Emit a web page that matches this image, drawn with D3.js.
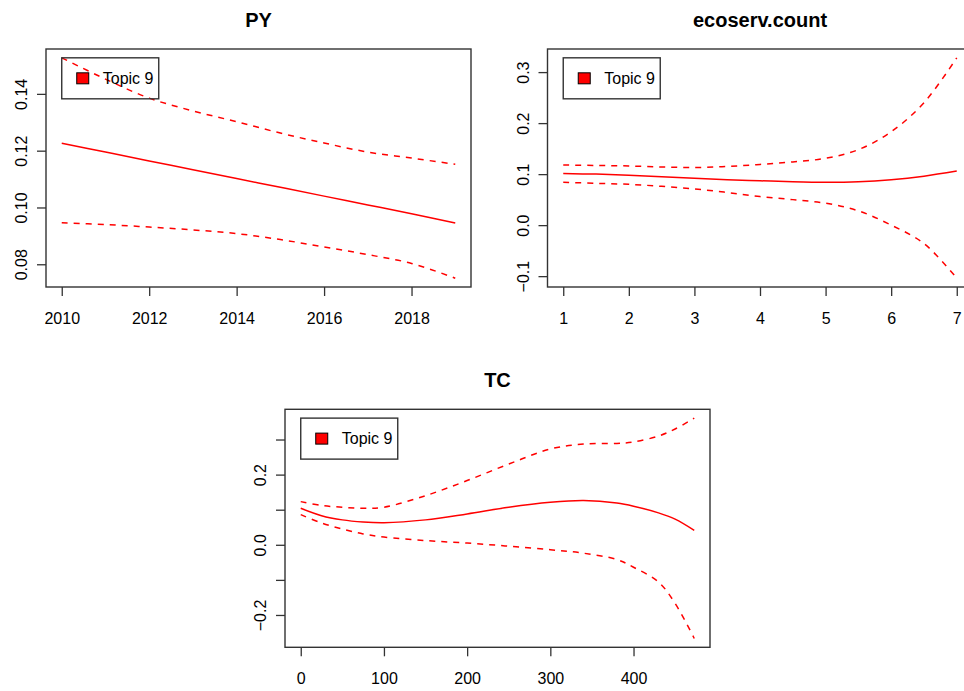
<!DOCTYPE html>
<html>
<head>
<meta charset="utf-8">
<script src="https://cdn.jsdelivr.net/npm/d3@7"></script>
<style>
  body { margin: 0; background: #fff; }
  svg { display: block; font-family: "Liberation Sans", Arial, sans-serif; }
</style>
</head>
<body>
<div id="chart"></div>
<script>
// --- data ---
var pyYears = [2010, 2011, 2012, 2013, 2014, 2015, 2016, 2017, 2018, 2019]
var pyMean  = [0.1226, 0.1195, 0.1164, 0.1133, 0.1102, 0.1071, 0.1040, 0.1009, 0.0978, 0.0945]
var pyUpper = [0.1527, 0.1452, 0.1385, 0.1340, 0.1302, 0.1262, 0.1227, 0.1195, 0.1174, 0.1152]
var pyLower = [0.0946, 0.0940, 0.0931, 0.0921, 0.0908, 0.0887, 0.0861, 0.0834, 0.0803, 0.0751]

var ecoX     = [1, 1.5, 2, 2.5, 3, 3.5, 4, 4.5, 5, 5.5, 6, 6.5, 7]
var ecoMean  = [0.101, 0.100, 0.098, 0.095, 0.092, 0.089, 0.087, 0.085, 0.084, 0.085, 0.089, 0.096, 0.106]
var ecoUpper = [0.118, 0.117, 0.116, 0.114, 0.113, 0.115, 0.119, 0.124, 0.131, 0.148, 0.183, 0.240, 0.328]
var ecoLower = [0.084, 0.082, 0.080, 0.076, 0.071, 0.064, 0.056, 0.050, 0.043, 0.028, 0.000, -0.036, -0.104]

var tcX     = [0, 25, 50, 75, 100, 150, 200, 250, 300, 340, 380, 400, 430, 450, 473]
var tcMean  = [0.104, 0.083, 0.071, 0.065, 0.063, 0.071, 0.088, 0.107, 0.121, 0.126, 0.119, 0.110, 0.091, 0.073, 0.041]
var tcUpper = [0.123, 0.112, 0.107, 0.104, 0.107, 0.140, 0.183, 0.230, 0.273, 0.287, 0.289, 0.293, 0.310, 0.330, 0.361]
var tcLower = [0.086, 0.062, 0.045, 0.031, 0.022, 0.012, 0.005, -0.004, -0.014, -0.024, -0.042, -0.064, -0.106, -0.167, -0.267]

var pyXTicks  = [2010, 2012, 2014, 2016, 2018]
var pyYTicks  = [0.08, 0.10, 0.12, 0.14]
var ecoXTicks = [1, 2, 3, 4, 5, 6, 7]
var ecoYTicks = [-0.1, 0, 0.1, 0.2, 0.3]
var tcXTicks  = [0, 100, 200, 300, 400]
var tcYTicks  = [-0.2, -0.1, 0, 0.1, 0.2, 0.3]
var tcYLabeled = [-0.2, 0, 0.2]

var legendLabel = "Topic 9"

var panels = [
    {title: "PY", left: 46, top: 49, x: pyYears, mean: pyMean, upper: pyUpper, lower: pyLower,
     xTicks: pyXTicks, yTicks: pyYTicks, yFmt: d3.format(".2f"), xFmt: d3.format("d")},
    {title: "ecoserv.count", left: 547.5, top: 49, x: ecoX, mean: ecoMean, upper: ecoUpper, lower: ecoLower,
     xTicks: ecoXTicks, yTicks: ecoYTicks, yFmt: d3.format(".1f"), xFmt: d3.format("d")},
    {title: "TC", left: 285, top: 409.3, x: tcX, mean: tcMean, upper: tcUpper, lower: tcLower,
     xTicks: tcXTicks, yTicks: tcYTicks, yFmt: function(v) {
         return tcYLabeled.some(function(t) { return Math.abs(t - v) < 1e-9 }) ? d3.format(".1f")(v) : ""
     }, xFmt: d3.format("d")}
]

var W = 964, H = 691, pw = 425, ph = 238

var svg = d3.select("#chart").append("svg")
    .attr("width", W)
    .attr("height", H)

// R style 4% padding around the data range
function padded(ext) {
    var p = (ext[1] - ext[0]) * 0.04
    return [ext[0] - p, ext[1] + p]
}

panels.forEach(function(p) {
    var g = svg.append("g").attr("transform", "translate(" + p.left + "," + p.top + ")")

    var x = d3.scaleLinear().domain(padded(d3.extent(p.x))).range([0, pw])
    var y = d3.scaleLinear().domain(padded(d3.extent(p.upper.concat(p.lower, p.mean)))).range([ph, 0])

    // title
    g.append("text")
    .attr("x", pw / 2)
    .attr("y", -22)
    .attr("text-anchor", "middle")
    .style("font-size", "20px")
    .style("font-weight", "bold")
    .text(p.title)

    // x axis
    var xa = g.append("g")
    .attr("transform", "translate(0," + ph + ")")
    .call(d3.axisBottom(x).tickValues(p.xTicks).tickSize(9).tickPadding(0).tickFormat(p.xFmt))
    xa.select(".domain").remove()
    xa.selectAll("line").attr("stroke", "#333").attr("stroke-width", 1.3)
    xa.selectAll("text")
    .attr("y", 37).attr("dy", 0)
    .attr("fill", "#000")
    .style("font-size", "16px")

    // y axis, labels rotated like base R
    var ya = g.append("g")
    .call(d3.axisLeft(y).tickValues(p.yTicks).tickSize(9).tickFormat(function(v) {
        return p.yFmt(v).replace("-", "\u2212")
    }))
    ya.select(".domain").remove()
    ya.selectAll("line").attr("stroke", "#333").attr("stroke-width", 1.3)
    ya.selectAll("text")
    .attr("transform", "rotate(-90)")
    .attr("x", 0).attr("y", -19).attr("dy", 0)
    .attr("text-anchor", "middle")
    .attr("fill", "#000")
    .style("font-size", "16px")

    // plot box
    g.append("rect")
    .attr("width", pw)
    .attr("height", ph)
    .attr("fill", "none")
    .attr("stroke", "#333")
    .attr("stroke-width", 1.4)

    var line = d3.line()
    .x(function(d) { return x(d[0]) })
    .y(function(d) { return y(d[1]) })
    .curve(d3.curveCatmullRom.alpha(0.5))

    var series = [
        {vals: p.mean, dash: null},
        {vals: p.upper, dash: "6,6"},
        {vals: p.lower, dash: "6,6"}
    ]
    series.forEach(function(s) {
        g.append("path")
        .datum(p.x.map(function(v, i) { return [v, s.vals[i]] }))
        .attr("d", line)
        .attr("fill", "none")
        .attr("stroke", "#ff0000")
        .attr("stroke-width", 1.5)
        .attr("stroke-dasharray", s.dash)
    })

    // legend at (min x, max of upper band)
    var lg = g.append("g")
    .attr("transform", "translate(" + x(d3.min(p.x)) + "," + y(d3.max(p.upper)) + ")")
    lg.append("rect")
    .attr("width", 97)
    .attr("height", 41)
    .attr("fill", "none")
    .attr("stroke", "#333")
    .attr("stroke-width", 1.4)
    lg.append("rect")
    .attr("x", 15).attr("y", 15)
    .attr("width", 12).attr("height", 11)
    .attr("fill", "#ff0000")
    .attr("stroke", "#000")
    .attr("stroke-width", 1)
    lg.append("text")
    .attr("x", 41).attr("y", 26)
    .style("font-size", "16px")
    .text(legendLabel)
})
</script>
</body>
</html>
